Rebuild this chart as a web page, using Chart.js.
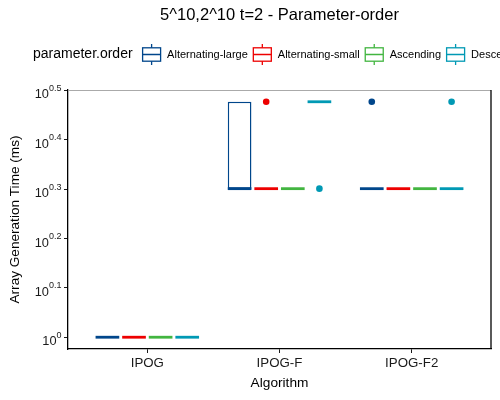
<!DOCTYPE html>
<html>
<head>
<meta charset="utf-8">
<script src="https://cdn.jsdelivr.net/npm/chart.js@4.4.1/dist/chart.umd.min.js"></script>
<style>
  html, body { margin: 0; padding: 0; background: #fff; }
  canvas { display: block; }
</style>
</head>
<body>
<canvas id="chart" width="500" height="400"></canvas>
<script>
var FONT = "'Liberation Sans', Arial, sans-serif";

var categories = ['IPOG', 'IPOG-F', 'IPOG-F2'];
var orderNames = ['Alternating-large', 'Alternating-small', 'Ascending', 'Descending'];
var orderColors = ['#00468B', '#ED0000', '#42B540', '#0099B4'];
var yTickExponents = [0, 0.1, 0.2, 0.3, 0.4, 0.5];

// box stats in ms, one entry per algorithm
var altLargeQ1 = [1, 2, 2];
var altLargeMedian = [1, 2, 2];
var altLargeQ3 = [1, 3, 2];
var altLargeOutliers = [[], [], [3]];

var altSmallQ1 = [1, 2, 2];
var altSmallMedian = [1, 2, 2];
var altSmallQ3 = [1, 2, 2];
var altSmallOutliers = [[], [3], []];

var ascendingQ1 = [1, 2, 2];
var ascendingMedian = [1, 2, 2];
var ascendingQ3 = [1, 2, 2];
var ascendingOutliers = [[], [], []];

var descendingQ1 = [1, 3, 2];
var descendingMedian = [1, 3, 2];
var descendingQ3 = [1, 3, 2];
var descendingOutliers = [[], [2], [3]];

var series = [
  { q1: altLargeQ1, median: altLargeMedian, q3: altLargeQ3, outliers: altLargeOutliers },
  { q1: altSmallQ1, median: altSmallMedian, q3: altSmallQ3, outliers: altSmallOutliers },
  { q1: ascendingQ1, median: ascendingMedian, q3: ascendingQ3, outliers: ascendingOutliers },
  { q1: descendingQ1, median: descendingMedian, q3: descendingQ3, outliers: descendingOutliers }
];

var datasets = series.map(function(s, k) {
  return {
    label: orderNames[k],
    data: categories.map(function(c, i) {
      return { x: i + 1, y: [s.q1[i], s.q3[i]] };
    }),
    backgroundColor: '#ffffff',
    borderColor: orderColors[k],
    borderWidth: 1.5,
    borderSkipped: false,
    categoryPercentage: 0.805,
    barPercentage: 0.89
  };
});

function drawKey(ctx, x, cy, color) {
  ctx.save();
  ctx.strokeStyle = color;
  ctx.lineWidth = 1.3;
  ctx.strokeRect(x, cy - 6.7, 18, 13.4);
  ctx.beginPath();
  ctx.moveTo(x, cy); ctx.lineTo(x + 18, cy);
  ctx.moveTo(x + 9, cy - 6.7); ctx.lineTo(x + 9, cy - 10.5);
  ctx.moveTo(x + 9, cy + 6.7); ctx.lineTo(x + 9, cy + 10.5);
  ctx.stroke();
  ctx.restore();
}

var boxExtras = {
  id: 'boxExtras',
  afterDatasetsDraw: function(chart) {
    var ctx = chart.ctx, y = chart.scales.y;
    series.forEach(function(s, di) {
      var meta = chart.getDatasetMeta(di);
      meta.data.forEach(function(bar, i) {
        var half = bar.width / 2;
        var my = y.getPixelForValue(s.median[i]);
        ctx.save();
        ctx.strokeStyle = orderColors[di];
        ctx.lineWidth = 2.8;
        ctx.beginPath();
        ctx.moveTo(bar.x - half, my);
        ctx.lineTo(bar.x + half, my);
        ctx.stroke();
        ctx.fillStyle = orderColors[di];
        s.outliers[i].forEach(function(v) {
          ctx.beginPath();
          ctx.arc(bar.x, y.getPixelForValue(v), 3.3, 0, Math.PI * 2);
          ctx.fill();
        });
        ctx.restore();
      });
    });
  },
  afterDraw: function(chart) {
    var ctx = chart.ctx, area = chart.chartArea, y = chart.scales.y;
    ctx.save();

    // top and right panel edges
    ctx.strokeStyle = '#aaaaaa';
    ctx.lineWidth = 1;
    ctx.beginPath();
    ctx.moveTo(area.left, area.top + 0.5);
    ctx.lineTo(area.right, area.top + 0.5);
    ctx.stroke();
    ctx.strokeStyle = '#000';
    ctx.lineWidth = 1.3;
    ctx.beginPath();
    ctx.moveTo(area.right, area.top);
    ctx.lineTo(area.right, area.bottom);
    ctx.stroke();

    // y tick labels as 10^x
    ctx.fillStyle = '#1a1a1a';
    ctx.textAlign = 'left';
    ctx.textBaseline = 'alphabetic';
    yTickExponents.forEach(function(e) {
      var py = y.getPixelForValue(Math.pow(10, e));
      var exp = e === 0 ? '0' : e.toFixed(1);
      ctx.font = '9px ' + FONT;
      var ew = ctx.measureText(exp).width;
      var ex = 61.5 - ew;
      ctx.fillText(exp, ex, py + 0.5);
      ctx.font = '12.8px ' + FONT;
      var bw = ctx.measureText('10').width;
      ctx.fillText('10', ex - bw, py + 8);
    });

    // title
    ctx.fillStyle = '#000';
    ctx.textAlign = 'center';
    ctx.textBaseline = 'middle';
    ctx.font = '16.5px ' + FONT;
    ctx.fillText('5^10,2^10 t=2 - Parameter-order', (area.left + area.right) / 2, 15);

    // legend
    var ly = 54.5;
    ctx.textAlign = 'left';
    ctx.font = '14px ' + FONT;
    ctx.fillText('parameter.order', 33, ly);
    var cx = 33 + ctx.measureText('parameter.order').width + 10;
    ctx.font = '11px ' + FONT;
    orderNames.forEach(function(name, k) {
      drawKey(ctx, cx, ly, orderColors[k]);
      var lx = cx + 24.5;
      ctx.fillStyle = '#000';
      ctx.fillText(name, lx, ly);
      cx = lx + ctx.measureText(name).width + 5.5;
    });
    ctx.restore();
  }
};

new Chart(document.getElementById('chart'), {
  type: 'bar',
  data: { datasets: datasets },
  plugins: [boxExtras],
  options: {
    responsive: false,
    animation: false,
    devicePixelRatio: 1,
    font: { family: FONT },
    layout: { padding: { top: 90, right: 9, left: 0, bottom: 0 } },
    plugins: {
      legend: { display: false },
      title: { display: false },
      tooltip: { enabled: false }
    },
    scales: {
      x: {
        type: 'linear',
        min: 0.4,
        max: 3.6,
        offset: false,
        afterBuildTicks: function(s) {
          s.ticks = categories.map(function(c, i) { return { value: i + 1 }; });
        },
        afterFit: function(s) { s.height = 51; },
        ticks: {
          callback: function(v) { return categories[v - 1]; },
          font: { family: FONT, size: 13.3 },
          color: '#1a1a1a',
          padding: 2.5,
          maxRotation: 0,
          autoSkip: false
        },
        grid: { drawOnChartArea: false, offset: false, tickLength: 4, color: '#1a1a1a' },
        border: { display: true, color: '#000', width: 1.3 },
        title: {
          display: true,
          text: 'Algorithm',
          font: { family: FONT, size: 13.7 },
          color: '#000',
          padding: { top: 0, bottom: 9 }
        }
      },
      y: {
        type: 'logarithmic',
        min: Math.pow(10, -0.02386),
        max: Math.pow(10, 0.50096),
        beginAtZero: false,
        afterBuildTicks: function(s) {
          s.ticks = yTickExponents.map(function(e) { return { value: Math.pow(10, e) }; });
        },
        afterFit: function(s) { s.width = 68; },
        ticks: { display: false },
        grid: { drawOnChartArea: false, tickLength: 4, color: '#1a1a1a' },
        border: { display: true, color: '#000', width: 1.3 },
        title: {
          display: true,
          text: 'Array Generation Time (ms)',
          font: { family: FONT, size: 13.6 },
          color: '#000',
          padding: { top: 7, bottom: 0 }
        }
      }
    }
  }
});
</script>
</body>
</html>
